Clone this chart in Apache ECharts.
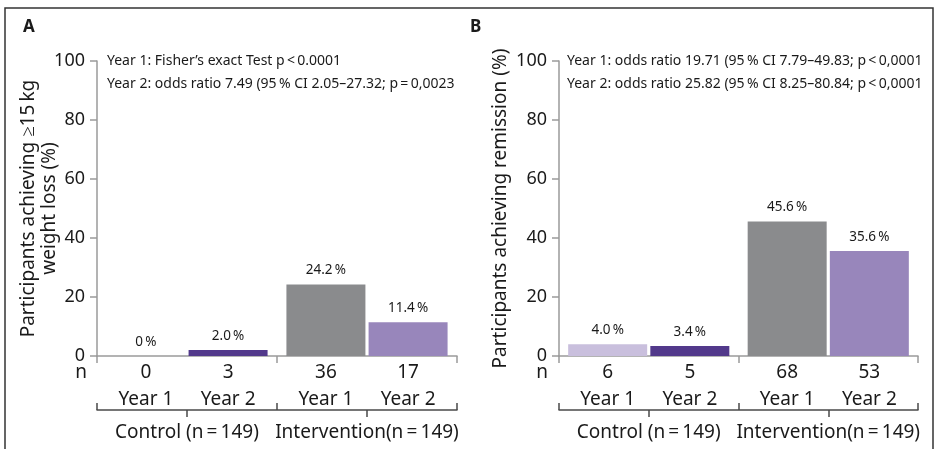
<!DOCTYPE html>
<html><head><meta charset="utf-8">
<script src="https://cdn.jsdelivr.net/npm/echarts@6/dist/echarts.min.js"></script>
<style>html,body{margin:0;padding:0;background:#fff}#c{width:939px;height:449px}</style>
</head><body><div id="c"></div>
<script>
// ---------- data ----------
const groups = ['Control (n\u2009=\u2009149)', 'Intervention(n\u2009=\u2009149)'];
const years = ['Year 1', 'Year 2'];
const yTicks = [0, 20, 40, 60, 80, 100];

const weightLossYear1 = [0, 24.2];
const weightLossYear2 = [2.0, 11.4];
const weightLossNYear1 = [0, 36];
const weightLossNYear2 = [3, 17];

const remissionYear1 = [4.0, 45.6];
const remissionYear2 = [3.4, 35.6];
const remissionNYear1 = [6, 68];
const remissionNYear2 = [5, 53];

const titleA = 'Participants achieving \u226515\u2009kg\nweight loss (%)';
const titleB = 'Participants achieving remission (%)';
const notesA = ['Year 1: Fisher\u2019s exact Test p\u2009<\u20090.0001',
                'Year 2: odds ratio 7.49 (95\u2009% CI 2.05\u201327.32; p\u2009=\u20090,0023'];
const notesB = ['Year 1: odds ratio 19.71 (95\u2009% CI 7.79\u201349.83; p\u2009<\u20090,0001',
                'Year 2: odds ratio 25.82 (95\u2009% CI 8.25\u201380.84; p\u2009<\u20090,0001'];

// colours [control, intervention] per year
const colYear1 = ['#c9bfdd', '#8a8b8d'];
const colYear2 = ['#52398b', '#9886bb'];

// ---------- chart ----------
const FONT = 'Noto Sans';
const AX = '#9a9a9a';
const BR = '#4a4a4a';
const chart = echarts.init(document.getElementById('c'));

const grids = [
  { left: 97, top: 61, width: 360, height: 295 },
  { left: 559, top: 61, width: 359, height: 295 }
];

function xAxes(gi) {
  return [
    { type: 'category', gridIndex: gi, data: groups,
      axisLine: { show: true, lineStyle: { color: AX, width: 1.5 } },
      axisTick: { show: true, interval: 0, length: 7, lineStyle: { color: AX, width: 1.5 } },
      axisLabel: { show: false } },
    { type: 'category', gridIndex: gi, data: groups, position: 'bottom', offset: 54,
      axisLine: { show: true, lineStyle: { color: BR, width: 1.5 } },
      axisTick: { show: true, interval: 0, inside: true, length: 7, lineStyle: { color: BR, width: 1.5 } },
      axisLabel: { show: true, interval: 0, fontFamily: FONT, fontSize: 19, color: '#1a1a1a', margin: 13 } },
    { type: 'category', gridIndex: gi, data: groups, position: 'bottom', offset: 54,
      axisLine: { show: false },
      axisTick: { show: true, interval: 0, alignWithLabel: true, length: 7, lineStyle: { color: BR, width: 1.5 } },
      axisLabel: { show: false } }
  ];
}

function yAxis(gi, name, gap) {
  return { type: 'value', gridIndex: gi, min: yTicks[0], max: yTicks[yTicks.length - 1], interval: 20,
    name: name, nameLocation: 'middle', nameRotate: 90, nameGap: gap, nameMoveOverlap: false,
    nameTextStyle: { fontFamily: FONT, fontSize: 19, color: '#1a1a1a', lineHeight: 21 },
    axisLine: { show: true, lineStyle: { color: AX, width: 1.5 } },
    axisTick: { show: true, length: 7, lineStyle: { color: AX, width: 1.5 } },
    axisLabel: { fontFamily: FONT, fontSize: 18, color: '#1a1a1a', margin: 12 },
    splitLine: { show: false } };
}

function fmtPct(v) { return (v === 0 ? '0' : v.toFixed(1)) + '\u2009%'; }

function panelSeries(gi, xi, yi, vals1, vals2, n1, n2) {
  const out = [];
  [[vals1, n1, colYear1, 0], [vals2, n2, colYear2, 1]].forEach(([vals, ns, cols, k]) => {
    const stack = 'p' + gi + 'y' + k;
    // label-only series carrying n and year text under each bar
    out.push({ type: 'bar', xAxisIndex: xi, yAxisIndex: yi, stack: stack, barWidth: 79, barGap: '4%',
      data: vals.map(() => 0), itemStyle: { color: 'transparent' }, silent: true,
      label: { show: true, position: 'bottom', distance: 3,
        formatter: p => '{n|' + ns[p.dataIndex] + '}\n{y|' + years[k] + '}',
        rich: { n: { fontFamily: FONT, fontSize: 19, lineHeight: 27, color: '#1a1a1a', align: 'center' },
                y: { fontFamily: FONT, fontSize: 19, lineHeight: 27, color: '#1a1a1a', align: 'center' } } } });
    out.push({ type: 'bar', xAxisIndex: xi, yAxisIndex: yi, stack: stack, barWidth: 79, barGap: '4%',
      data: vals.map((v, i) => ({ value: v, itemStyle: { color: cols[i] } })),
      label: { show: true, position: 'top', distance: 7, fontFamily: FONT, fontSize: 13.5, color: '#1a1a1a',
        formatter: p => fmtPct(p.value) } });
  });
  return out;
}

function txt(x, y, s, opt) {
  return { type: 'text', x: x, y: y,
    style: Object.assign({ text: s, fontFamily: FONT, fontSize: 14, fill: '#1a1a1a',
      textVerticalAlign: 'middle' }, opt || {}) };
}

chart.setOption({
  animation: false,
  grid: grids,
  xAxis: [...xAxes(0), ...xAxes(1)],
  yAxis: [yAxis(0, titleA, 37), yAxis(1, titleB, 48)],
  series: [
    ...panelSeries(0, 0, 0, weightLossYear1, weightLossYear2, weightLossNYear1, weightLossNYear2),
    ...panelSeries(1, 3, 1, remissionYear1, remissionYear2, remissionNYear1, remissionNYear2)
  ],
  graphic: [
    { type: 'rect', shape: { x: 5, y: 8, width: 928, height: 470 }, style: { fill: 'none', stroke: '#333', lineWidth: 1.5 } },
    txt(23, 27, 'A', { fontSize: 17, fontWeight: 'bold' }),
    txt(470, 27, 'B', { fontSize: 17, fontWeight: 'bold' }),
    txt(81, 373, 'n', { fontSize: 19, textAlign: 'center' }),
    txt(542, 373, 'n', { fontSize: 19, textAlign: 'center' }),
    txt(107, 61, notesA[0]), txt(107, 84, notesA[1]),
    txt(567, 61, notesB[0]), txt(567, 84, notesB[1])
  ]
});
</script></body></html>
